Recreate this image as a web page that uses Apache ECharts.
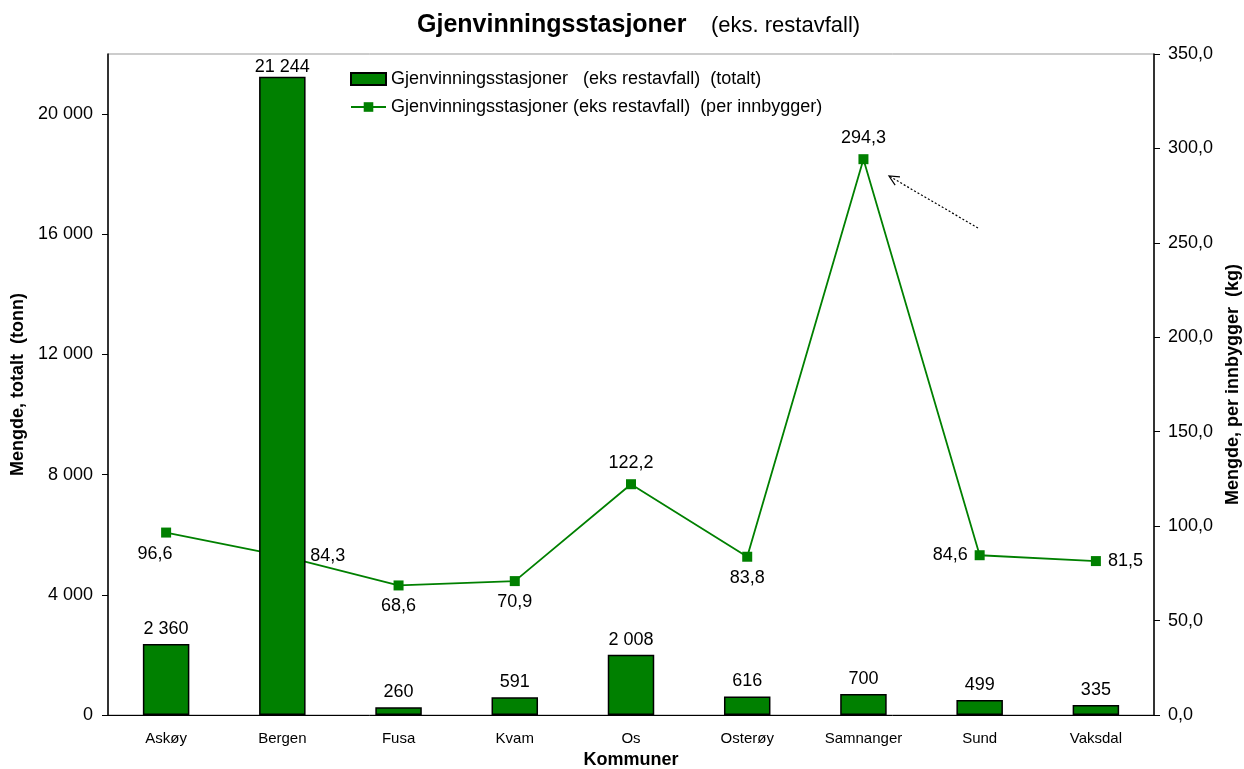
<!DOCTYPE html>
<html>
<head>
<meta charset="utf-8">
<script src="https://cdn.jsdelivr.net/npm/echarts@6/dist/echarts.min.js"></script>
<style>
  html, body { margin: 0; padding: 0; background: #fff; }
  #chart { width: 1244px; height: 769px; }
</style>
</head>
<body>
<div id="chart"></div>
<script>
// data
const kommuner = ['Askøy', 'Bergen', 'Fusa', 'Kvam', 'Os', 'Osterøy', 'Samnanger', 'Sund', 'Vaksdal'];
const totalt = [2360, 21244, 260, 591, 2008, 616, 700, 499, 335];
const perInnbygger = [96.6, 84.3, 68.6, 70.9, 122.2, 83.8, 294.3, 84.6, 81.5];
const leftTicks = [0, 4000, 8000, 12000, 16000, 20000];
// where each per-innbygger label sits
const labelPos = ['bottom', 'right', 'bottom', 'bottom', 'top', 'bottom', 'top', 'left', 'right'];
const labelOffset = [[-11, 0], [16, 0], [0, 0], [0, 0], [0, 0], [0, 0], [0, 0], [0, 0], [0, 0]];

const fmtTonn = v => String(Math.round(v)).replace(/\B(?=(\d{3})+(?!\d))/g, ' ');
const fmtKg = v => v.toFixed(1).replace('.', ',');

const chart = echarts.init(document.getElementById('chart'));

const font = 'Liberation Sans, Arial, sans-serif';

// dotted arrow pointing at Samnanger
const a0 = [978, 228], a1 = [889, 176];
const dx = a1[0] - a0[0], dy = a1[1] - a0[1];
const len = Math.sqrt(dx * dx + dy * dy);
const ux = dx / len, uy = dy / len;
function arm(angle) {
  const c = Math.cos(angle), s = Math.sin(angle);
  const bx = -(ux * c - uy * s), by = -(ux * s + uy * c);
  return [a1[0] + bx * 11, a1[1] + by * 11];
}

const option = {
  backgroundColor: '#fff',
  textStyle: { fontFamily: font },
  title: {
    text: '{a|Gjenvinningsstasjoner}{b|    (eks. restavfall)}',
    left: 412,
    top: 8,
    textStyle: {
      fontWeight: 'normal',
      rich: {
        a: { fontFamily: font, fontSize: 25, fontWeight: 'bold', color: '#000' },
        b: { fontFamily: font, fontSize: 22, fontWeight: 'normal', color: '#000' }
      }
    }
  },
  legend: {
    orient: 'vertical',
    left: 345,
    top: 65,
    itemWidth: 35,
    itemHeight: 12,
    itemGap: 10,
    textStyle: { fontFamily: font, fontSize: 18, color: '#000' },
    data: [
      { name: 'Gjenvinningsstasjoner   (eks restavfall)  (totalt)', icon: 'rect' },
      { name: 'Gjenvinningsstasjoner (eks restavfall)  (per innbygger)' }
    ]
  },
  grid: {
    left: 108, right: 90, top: 54, bottom: 54,
    outerBoundsMode: 'none',
    containLabel: false,
    show: true, borderColor: '#999', borderWidth: 1
  },
  xAxis: {
    type: 'category',
    data: kommuner,
    name: 'Kommuner',
    nameLocation: 'middle',
    nameGap: 35,
    nameTextStyle: { fontFamily: font, fontSize: 18, fontWeight: 'bold', color: '#000' },
    axisLine: { lineStyle: { color: '#000', width: 1 } },
    axisTick: { length: 5, lineStyle: { color: '#000' } },
    axisLabel: { fontFamily: font, fontSize: 15, color: '#000', margin: 16 }
  },
  yAxis: [
    {
      type: 'value',
      min: 0,
      max: 22000,
      interval: 4000,
      name: 'Mengde, totalt  (tonn)',
      nameLocation: 'middle',
      nameGap: 80,
      nameTextStyle: { fontFamily: font, fontSize: 18, fontWeight: 'bold', color: '#000' },
      axisLine: { show: true, lineStyle: { color: '#000', width: 1.5 } },
      axisTick: { show: true, length: 6, lineStyle: { color: '#000' }, customValues: leftTicks },
      axisLabel: { fontFamily: font, fontSize: 18, color: '#000', margin: 15, customValues: leftTicks, formatter: fmtTonn },
      splitLine: { show: false }
    },
    {
      type: 'value',
      min: 0,
      max: 350,
      interval: 50,
      position: 'right',
      name: 'Mengde, per innbygger  (kg)',
      nameLocation: 'middle',
      nameGap: 70,
      nameTextStyle: { fontFamily: font, fontSize: 18, fontWeight: 'bold', color: '#000' },
      axisLine: { show: true, lineStyle: { color: '#000', width: 1.5 } },
      axisTick: { show: true, length: 6, lineStyle: { color: '#000' } },
      axisLabel: { fontFamily: font, fontSize: 18, color: '#000', margin: 14, formatter: fmtKg },
      splitLine: { show: false }
    }
  ],
  series: [
    {
      name: 'Gjenvinningsstasjoner   (eks restavfall)  (totalt)',
      type: 'bar',
      yAxisIndex: 0,
      z: 3,
      barWidth: '40%',
      // the tallest label is kept inside the plot, as in the original
      data: totalt.map(v => (v > 20000 ? { value: v, label: { offset: [0, 5] } } : v)),
      itemStyle: { color: '#008000', borderColor: '#000', borderWidth: 1.5 },
      label: {
        show: true,
        position: 'top',
        distance: 6,
        fontFamily: font,
        fontSize: 18,
        color: '#000',
        formatter: p => fmtTonn(p.value)
      }
    },
    {
      name: 'Gjenvinningsstasjoner (eks restavfall)  (per innbygger)',
      type: 'line',
      yAxisIndex: 1,
      z: 2,
      symbol: 'rect',
      symbolSize: 10,
      lineStyle: { color: '#008000', width: 1.8 },
      itemStyle: { color: '#008000' },
      data: perInnbygger.map((v, i) => ({
        value: v,
        label: { position: labelPos[i], offset: labelOffset[i] }
      })),
      label: {
        show: true,
        distance: 7,
        fontFamily: font,
        fontSize: 18,
        color: '#000',
        formatter: p => fmtKg(p.value)
      }
    }
  ],
  graphic: [
    {
      type: 'line',
      shape: { x1: a0[0], y1: a0[1], x2: a1[0], y2: a1[1] },
      style: { stroke: '#000', lineWidth: 1.2, lineDash: [2, 2] },
      z: 10
    },
    {
      type: 'polyline',
      shape: { points: [arm(0.45), a1, arm(-0.45)] },
      style: { stroke: '#000', lineWidth: 1.2, fill: null },
      z: 10
    }
  ]
};

chart.setOption(option);
</script>
</body>
</html>
